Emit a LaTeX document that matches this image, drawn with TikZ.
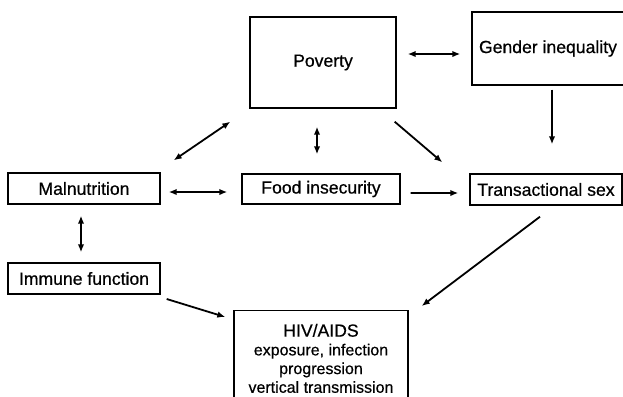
\documentclass[tikz,border=0pt]{standalone}
\usepackage{fontspec}
\setmainfont{Liberation Sans}[FakeBold=0.6]
\usetikzlibrary{arrows.meta}

\tikzset{
  box/.style={draw, line width=1.4bp, inner sep=0pt, align=center,
    font=\fontsize{17.6bp}{20bp}\selectfont},
  tip/.style={line width=1.8bp, -{Latex[length=8bp,width=6.5bp]}},
  twotip/.style={line width=1.8bp, {Latex[length=8bp,width=6.5bp]}-{Latex[length=8bp,width=6.5bp]}}
}

\begin{document}
\begin{tikzpicture}[x=1bp, y=-1bp]
  \useasboundingbox (0,0) rectangle (623,396);
  \clip (0,0) rectangle (623,396);
  % Boxes
  \node[box, minimum width=146bp, minimum height=91bp] (pov) at (323,62.5) {Poverty};
  \node[box, minimum width=152bp, minimum height=73bp] (gen) at (548,48.5) {Gender inequality};
  \node[box, minimum width=152bp, minimum height=31bp] (mal) at (84,188.5) {Malnutrition};
  \node[box, minimum width=158bp, minimum height=30bp] (food) at (321,189) {Food insecurity};
  \node[box, minimum width=152bp, minimum height=31bp] (trans) at (546,189.5) {Transactional sex};
  \node[box, minimum width=152bp, minimum height=31bp] (imm) at (84,278.5) {Immune function};
  \node[box, minimum width=174bp, inner ysep=13.2bp, anchor=north,
    font=\fontsize{16bp}{18.7bp}\selectfont] (hiv) at (321,310)
    {{\fontsize{17.6bp}{18.7bp}\selectfont HIV/AIDS}\\ exposure, infection\\ progression\\ vertical transmission};
  % Links
  \draw[twotip] ([shift={(11,-8.5)}]pov.east) -- ([shift={(-11,5.5)}]gen.west);
  \draw[tip] ([shift={(4,4)}]gen.south) -- ([shift={(6,-29)}]trans.north);
  \draw[twotip] ([shift={(-6,18)}]pov.south) -- ([shift={(-4,-19)}]food.north);
  \draw[tip] ([shift={(-2,13)}]pov.south east) -- ([shift={(-27,-11)}]trans.north west);
  \draw[twotip] ([shift={(-19,13)}]pov.south west) -- ([shift={(13,-12)}]mal.north east);
  \draw[twotip] ([shift={(8,3.5)}]mal.east) -- ([shift={(-14,3)}]food.west);
  \draw[tip] ([shift={(10,4)}]food.east) -- ([shift={(-11,3.5)}]trans.west);
  \draw[twotip] ([shift={(-3,11)}]mal.south) -- ([shift={(-3,-10)}]imm.north);
  \draw[tip] ([shift={(6,20.5)}]imm.east) -- ([shift={(-8,7)}]hiv.north west);
  \draw[tip] ([shift={(-6,11)}]trans.south) -- ([shift={(13,-4)}]hiv.north east);
\end{tikzpicture}
\end{document}
